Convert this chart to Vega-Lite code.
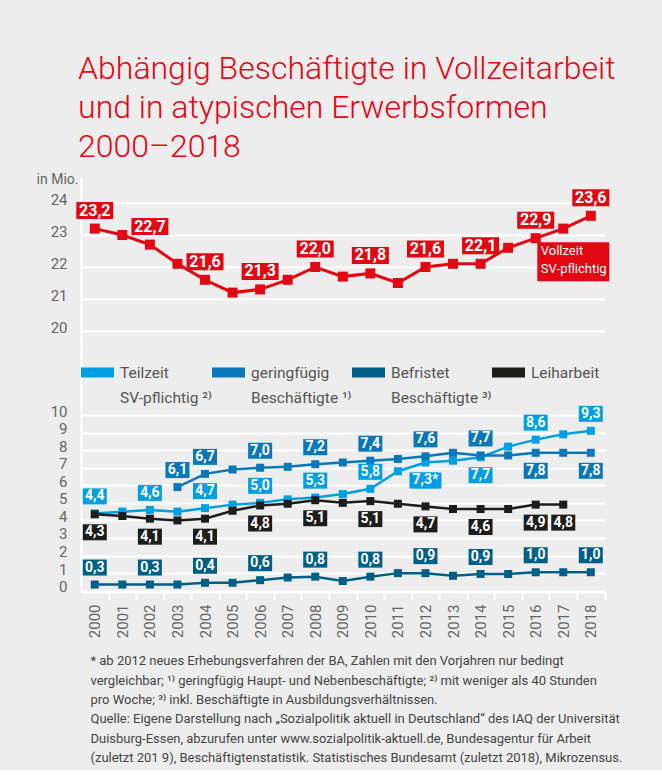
{
  "$schema": "https://vega.github.io/schema/vega-lite/v6.json",
  "background": "#ededed",
  "padding": {"left": 36, "top": 53, "right": 50, "bottom": 5},
  "spacing": 0,
  "title": {
    "text": ["Abhängig Beschäftigte in Vollzeitarbeit", "und in atypischen Erwerbsformen", "2000–2018"],
    "anchor": "start",
    "font": "Roboto",
    "fontSize": 32,
    "fontWeight": 300,
    "color": "#e30613",
    "lineHeight": 39,
    "offset": 8,
    "dx": 42
  },
  "config": {
    "font": "Roboto",
    "view": {"stroke": null},
    "style": {"guide-label": {"lineBreak": "|", "lineHeight": 26}},
    "axis": {
      "labelFont": "Roboto",
      "labelColor": "#666666",
      "labelFontSize": 15,
      "domainColor": "#ffffff",
      "domainWidth": 2,
      "gridColor": "#ffffff",
      "gridWidth": 2,
      "ticks": false,
      "labelPadding": 14
    }
  },
  "datasets": {
    "vollzeit": [
      {"year": 2000, "value": 23.2, "label": "23,2"},
      {"year": 2001, "value": 23.0},
      {"year": 2002, "value": 22.7, "label": "22,7"},
      {"year": 2003, "value": 22.1},
      {"year": 2004, "value": 21.6, "label": "21,6"},
      {"year": 2005, "value": 21.2},
      {"year": 2006, "value": 21.3, "label": "21,3"},
      {"year": 2007, "value": 21.6},
      {"year": 2008, "value": 22.0, "label": "22,0"},
      {"year": 2009, "value": 21.7},
      {"year": 2010, "value": 21.8, "label": "21,8"},
      {"year": 2011, "value": 21.5},
      {"year": 2012, "value": 22.0, "label": "21,6"},
      {"year": 2013, "value": 22.1},
      {"year": 2014, "value": 22.1, "label": "22,1"},
      {"year": 2015, "value": 22.6},
      {"year": 2016, "value": 22.9, "label": "22,9"},
      {"year": 2017, "value": 23.2},
      {"year": 2018, "value": 23.6, "label": "23,6"}
    ],
    "atypisch": [
      {"series": "Teilzeit", "year": 2000, "value": 4.4, "label": "4,4"},
      {"series": "Teilzeit", "year": 2001, "value": 4.5},
      {"series": "Teilzeit", "year": 2002, "value": 4.6, "label": "4,6"},
      {"series": "Teilzeit", "year": 2003, "value": 4.5},
      {"series": "Teilzeit", "year": 2004, "value": 4.7, "label": "4,7"},
      {"series": "Teilzeit", "year": 2005, "value": 4.9},
      {"series": "Teilzeit", "year": 2006, "value": 5.0, "label": "5,0"},
      {"series": "Teilzeit", "year": 2007, "value": 5.2},
      {"series": "Teilzeit", "year": 2008, "value": 5.3, "label": "5,3"},
      {"series": "Teilzeit", "year": 2009, "value": 5.5},
      {"series": "Teilzeit", "year": 2010, "value": 5.8, "label": "5,8"},
      {"series": "Teilzeit", "year": 2011, "value": 6.8},
      {"series": "Teilzeit", "year": 2012, "value": 7.3, "label": "7,3*"},
      {"series": "Teilzeit", "year": 2013, "value": 7.4},
      {"series": "Teilzeit", "year": 2014, "value": 7.6, "label": "7,7"},
      {"series": "Teilzeit", "year": 2015, "value": 8.2},
      {"series": "Teilzeit", "year": 2016, "value": 8.6, "label": "8,6"},
      {"series": "Teilzeit", "year": 2017, "value": 8.9},
      {"series": "Teilzeit", "year": 2018, "value": 9.1, "label": "9,3"},
      {"series": "geringfügig", "year": 2003, "value": 5.9, "label": "6,1"},
      {"series": "geringfügig", "year": 2004, "value": 6.65, "label": "6,7"},
      {"series": "geringfügig", "year": 2005, "value": 6.9},
      {"series": "geringfügig", "year": 2006, "value": 7.0, "label": "7,0"},
      {"series": "geringfügig", "year": 2007, "value": 7.05},
      {"series": "geringfügig", "year": 2008, "value": 7.2, "label": "7,2"},
      {"series": "geringfügig", "year": 2009, "value": 7.3},
      {"series": "geringfügig", "year": 2010, "value": 7.4, "label": "7,4"},
      {"series": "geringfügig", "year": 2011, "value": 7.5},
      {"series": "geringfügig", "year": 2012, "value": 7.65, "label": "7,6"},
      {"series": "geringfügig", "year": 2013, "value": 7.85},
      {"series": "geringfügig", "year": 2014, "value": 7.7, "label": "7,7"},
      {"series": "geringfügig", "year": 2015, "value": 7.7},
      {"series": "geringfügig", "year": 2016, "value": 7.85, "label": "7,8"},
      {"series": "geringfügig", "year": 2017, "value": 7.85},
      {"series": "geringfügig", "year": 2018, "value": 7.85, "label": "7,8"},
      {"series": "Befristet", "year": 2000, "value": 0.35, "label": "0,3"},
      {"series": "Befristet", "year": 2001, "value": 0.35},
      {"series": "Befristet", "year": 2002, "value": 0.35, "label": "0,3"},
      {"series": "Befristet", "year": 2003, "value": 0.35},
      {"series": "Befristet", "year": 2004, "value": 0.45, "label": "0,4"},
      {"series": "Befristet", "year": 2005, "value": 0.45},
      {"series": "Befristet", "year": 2006, "value": 0.6, "label": "0,6"},
      {"series": "Befristet", "year": 2007, "value": 0.75},
      {"series": "Befristet", "year": 2008, "value": 0.8, "label": "0,8"},
      {"series": "Befristet", "year": 2009, "value": 0.55},
      {"series": "Befristet", "year": 2010, "value": 0.8, "label": "0,8"},
      {"series": "Befristet", "year": 2011, "value": 1.0},
      {"series": "Befristet", "year": 2012, "value": 1.0, "label": "0,9"},
      {"series": "Befristet", "year": 2013, "value": 0.85},
      {"series": "Befristet", "year": 2014, "value": 0.95, "label": "0,9"},
      {"series": "Befristet", "year": 2015, "value": 0.95},
      {"series": "Befristet", "year": 2016, "value": 1.05, "label": "1,0"},
      {"series": "Befristet", "year": 2017, "value": 1.05},
      {"series": "Befristet", "year": 2018, "value": 1.05, "label": "1,0"},
      {"series": "Leiharbeit", "year": 2000, "value": 4.35, "label": "4,3"},
      {"series": "Leiharbeit", "year": 2001, "value": 4.25},
      {"series": "Leiharbeit", "year": 2002, "value": 4.1, "label": "4,1"},
      {"series": "Leiharbeit", "year": 2003, "value": 4.0},
      {"series": "Leiharbeit", "year": 2004, "value": 4.1, "label": "4,1"},
      {"series": "Leiharbeit", "year": 2005, "value": 4.55},
      {"series": "Leiharbeit", "year": 2006, "value": 4.85, "label": "4,8"},
      {"series": "Leiharbeit", "year": 2007, "value": 4.95},
      {"series": "Leiharbeit", "year": 2008, "value": 5.15, "label": "5,1"},
      {"series": "Leiharbeit", "year": 2009, "value": 5.0},
      {"series": "Leiharbeit", "year": 2010, "value": 5.1, "label": "5,1"},
      {"series": "Leiharbeit", "year": 2011, "value": 4.95},
      {"series": "Leiharbeit", "year": 2012, "value": 4.8, "label": "4,7"},
      {"series": "Leiharbeit", "year": 2013, "value": 4.65},
      {"series": "Leiharbeit", "year": 2014, "value": 4.65, "label": "4,6"},
      {"series": "Leiharbeit", "year": 2015, "value": 4.65},
      {"series": "Leiharbeit", "year": 2016, "value": 4.9, "label": "4,9"},
      {"series": "Leiharbeit", "year": 2017, "value": 4.9, "label": "4,8"}
    ]
  },
  "vconcat": [
    {
      "width": 523.6,
      "height": 168,
      "data": {"name": "vollzeit"},
      "encoding": {
        "x": {"field": "year", "type": "quantitative", "scale": {"domain": [1999.5, 2018.5], "nice": false, "zero": false}, "axis": null},
        "y": {
          "field": "value", "type": "quantitative",
          "scale": {"domain": [19.5625, 24.8125], "nice": false, "zero": false},
          "axis": {
            "values": [20, 21, 22, 23, 24],
            "labelOffset": -4,
            "title": "in Mio.",
            "titleAngle": 0,
            "titleAlign": "right",
            "titleBaseline": "middle",
            "titleX": -3,
            "titleY": 2,
            "titleFont": "Roboto",
            "titleFontSize": 14,
            "titleFontWeight": "normal",
            "titleColor": "#666666"
          }
        }
      },
      "layer": [
        {"mark": {"type": "line", "color": "#e30613", "strokeWidth": 3}},
        {"mark": {"type": "point", "shape": "square", "filled": true, "opacity": 1, "size": 100, "color": "#e30613"}},
        {
          "transform": [{"filter": "isValid(datum.label)"}],
          "mark": {"type": "point", "shape": "M-1,-0.46L1,-0.46L1,0.46L-1,0.46Z", "filled": true, "opacity": 1, "size": 1369, "color": "#e30613", "yOffset": -18}
        },
        {
          "transform": [{"filter": "isValid(datum.label)"}],
          "mark": {"type": "text", "color": "#ffffff", "fontSize": 16, "fontWeight": "bold", "dy": -18, "align": "center", "baseline": "middle"},
          "encoding": {"text": {"field": "label"}}
        },
        {
          "transform": [{"filter": "datum.year == 2018"}],
          "mark": {"type": "point", "shape": "M-1,-0.54L1,-0.54L1,0.54L-1,0.54Z", "filled": true, "opacity": 1, "size": 5184, "color": "#e30613", "xOffset": -17.5, "yOffset": 46}
        },
        {
          "transform": [{"filter": "datum.year == 2018"}],
          "mark": {"type": "text", "text": ["Vollzeit", "SV-pflichtig"], "color": "#ffffff", "font": "Roboto", "fontSize": 13, "lineHeight": 18, "align": "left", "baseline": "top", "dx": -50, "dy": 29}
        }
      ]
    },
    {
      "width": 523.6,
      "height": 247,
      "data": {"name": "atypisch"},
      "encoding": {
        "x": {
          "field": "year", "type": "quantitative",
          "scale": {"domain": [1999.5, 2018.5], "nice": false, "zero": false},
          "axis": {
            "values": [2000, 2001, 2002, 2003, 2004, 2005, 2006, 2007, 2008, 2009, 2010, 2011, 2012, 2013, 2014, 2015, 2016, 2017, 2018],
            "format": "d",
            "labelAngle": -90,
            "labelPadding": 4,
            "ticks": true,
            "tickColor": "#ffffff",
            "tickWidth": 2,
            "tickSize": 8,
            "tickOffset": 13.78,
            "labelOffset": -13.78,
            "grid": false,
            "title": [
              "* ab 2012 neues Erhebungsverfahren der BA, Zahlen mit den Vorjahren nur bedingt",
              "vergleichbar; ¹⁾ geringfügig Haupt- und Nebenbeschäftigte; ²⁾ mit weniger als 40 Stunden",
              "pro Woche; ³⁾ inkl. Beschäftigte in Ausbildungsverhältnissen.",
              "Quelle: Eigene Darstellung nach „Sozialpolitik aktuell in Deutschland“ des IAQ der Universität",
              "Duisburg-Essen, abzurufen unter www.sozialpolitik-aktuell.de, Bundesagentur für Arbeit",
              "(zuletzt 201 9), Beschäftigtenstatistik. Statistisches Bundesamt (zuletzt 2018), Mikrozensus."
            ],
            "titleFont": "Roboto",
            "titleFontSize": 13,
            "titleFontWeight": "normal",
            "titleColor": "#444444",
            "titleAlign": "left",
            "titleAnchor": "start",
            "titleBaseline": "top",
            "titleLineHeight": 19.3,
            "titleX": 9,
            "titleY": 63
          }
        },
        "y": {
          "field": "value", "type": "quantitative",
          "scale": {"domain": [-0.074, 13.987], "nice": false, "zero": false},
          "axis": {"values": [0, 1, 2, 3, 4, 5, 6, 7, 8, 9, 10], "labelOffset": -4, "title": null}
        }
      },
      "layer": [
        {
          "mark": {"type": "line", "strokeWidth": 2.5},
          "encoding": {
            "stroke": {"field": "series", "type": "nominal", "scale": {"domain": ["Leiharbeit", "Befristet", "geringfügig", "Teilzeit"], "range": ["#1d1d1b", "#005f87", "#0a78b8", "#009fe3"]}, "legend": null}
          }
        },
        {
          "mark": {"type": "point", "shape": "square", "filled": true, "opacity": 1, "size": 64},
          "encoding": {
            "color": {
              "field": "series", "type": "nominal",
              "scale": {"domain": ["Teilzeit", "geringfügig", "Befristet", "Leiharbeit"], "range": ["#009fe3", "#0a78b8", "#005f87", "#1d1d1b"]},
              "legend": {
                "title": null,
                "orient": "none",
                "legendX": 0,
                "legendY": 179,
                "padding": 0,
                "direction": "horizontal",
                "columns": 4,
                "columnPadding": 0,
                "symbolType": "M-1,-0.3L1,-0.3L1,0.3L-1,0.3Z",
                "symbolSize": 1089,
                "symbolStrokeWidth": 0,
                "symbolOpacity": 1,
                "labelFont": "Roboto",
                "labelFontSize": 15.5,
                "labelColor": "#555555",
                "labelOffset": 6,
                "labelLimit": 300,
                "labelExpr": "datum.label == 'Teilzeit' ? 'Teilzeit|SV-pflichtig ²⁾' : datum.label == 'geringfügig' ? 'geringfügig|Beschäftigte ¹⁾' : datum.label == 'Befristet' ? 'Befristet|Beschäftigte ³⁾' : 'Leiharbeit| '"
              }
            }
          }
        },
        {
          "transform": [{"filter": "isValid(datum.label) && !(datum.series == 'Leiharbeit' || (datum.series == 'Teilzeit' && (datum.year == 2012 || datum.year == 2014)) || (datum.series == 'geringfügig' && datum.year >= 2016))"}],
          "layer": [
            {
              "mark": {"type": "point", "shape": "M-1,-0.667L1,-0.667L1,0.667L-1,0.667Z", "filled": true, "opacity": 1, "size": 576, "yOffset": -17},
              "encoding": {"fill": {"field": "series", "type": "nominal", "scale": {"domain": ["geringfügig", "Teilzeit", "Leiharbeit", "Befristet"], "range": ["#0a78b8", "#009fe3", "#1d1d1b", "#005f87"]}, "legend": null}}
            },
            {
              "mark": {"type": "text", "color": "#ffffff", "fontSize": 14, "fontWeight": "bold", "dy": -17, "align": "center", "baseline": "middle"},
              "encoding": {"text": {"field": "label"}}
            }
          ]
        },
        {
          "transform": [{"filter": "isValid(datum.label) && (datum.series == 'Leiharbeit' || (datum.series == 'Teilzeit' && (datum.year == 2012 || datum.year == 2014)) || (datum.series == 'geringfügig' && datum.year >= 2016))"}],
          "layer": [
            {
              "mark": {"type": "point", "shape": "M-1,-0.667L1,-0.667L1,0.667L-1,0.667Z", "filled": true, "opacity": 1, "size": 576, "yOffset": 18},
              "encoding": {"fill": {"field": "series", "type": "nominal", "scale": {"domain": ["geringfügig", "Teilzeit", "Leiharbeit", "Befristet"], "range": ["#0a78b8", "#009fe3", "#1d1d1b", "#005f87"]}, "legend": null}}
            },
            {
              "transform": [{"filter": "indexof(datum.label, '*') >= 0"}],
              "mark": {"type": "point", "shape": "M-1,-0.5L1,-0.5L1,0.5L-1,0.5Z", "filled": true, "opacity": 1, "size": 1024, "yOffset": 18},
              "encoding": {"fill": {"field": "series", "type": "nominal", "scale": {"domain": ["geringfügig", "Teilzeit", "Leiharbeit", "Befristet"], "range": ["#0a78b8", "#009fe3", "#1d1d1b", "#005f87"]}, "legend": null}}
            },
            {
              "mark": {"type": "text", "color": "#ffffff", "fontSize": 14, "fontWeight": "bold", "dy": 18, "align": "center", "baseline": "middle"},
              "encoding": {"text": {"field": "label"}}
            }
          ]
        }
      ]
    }
  ]
}
